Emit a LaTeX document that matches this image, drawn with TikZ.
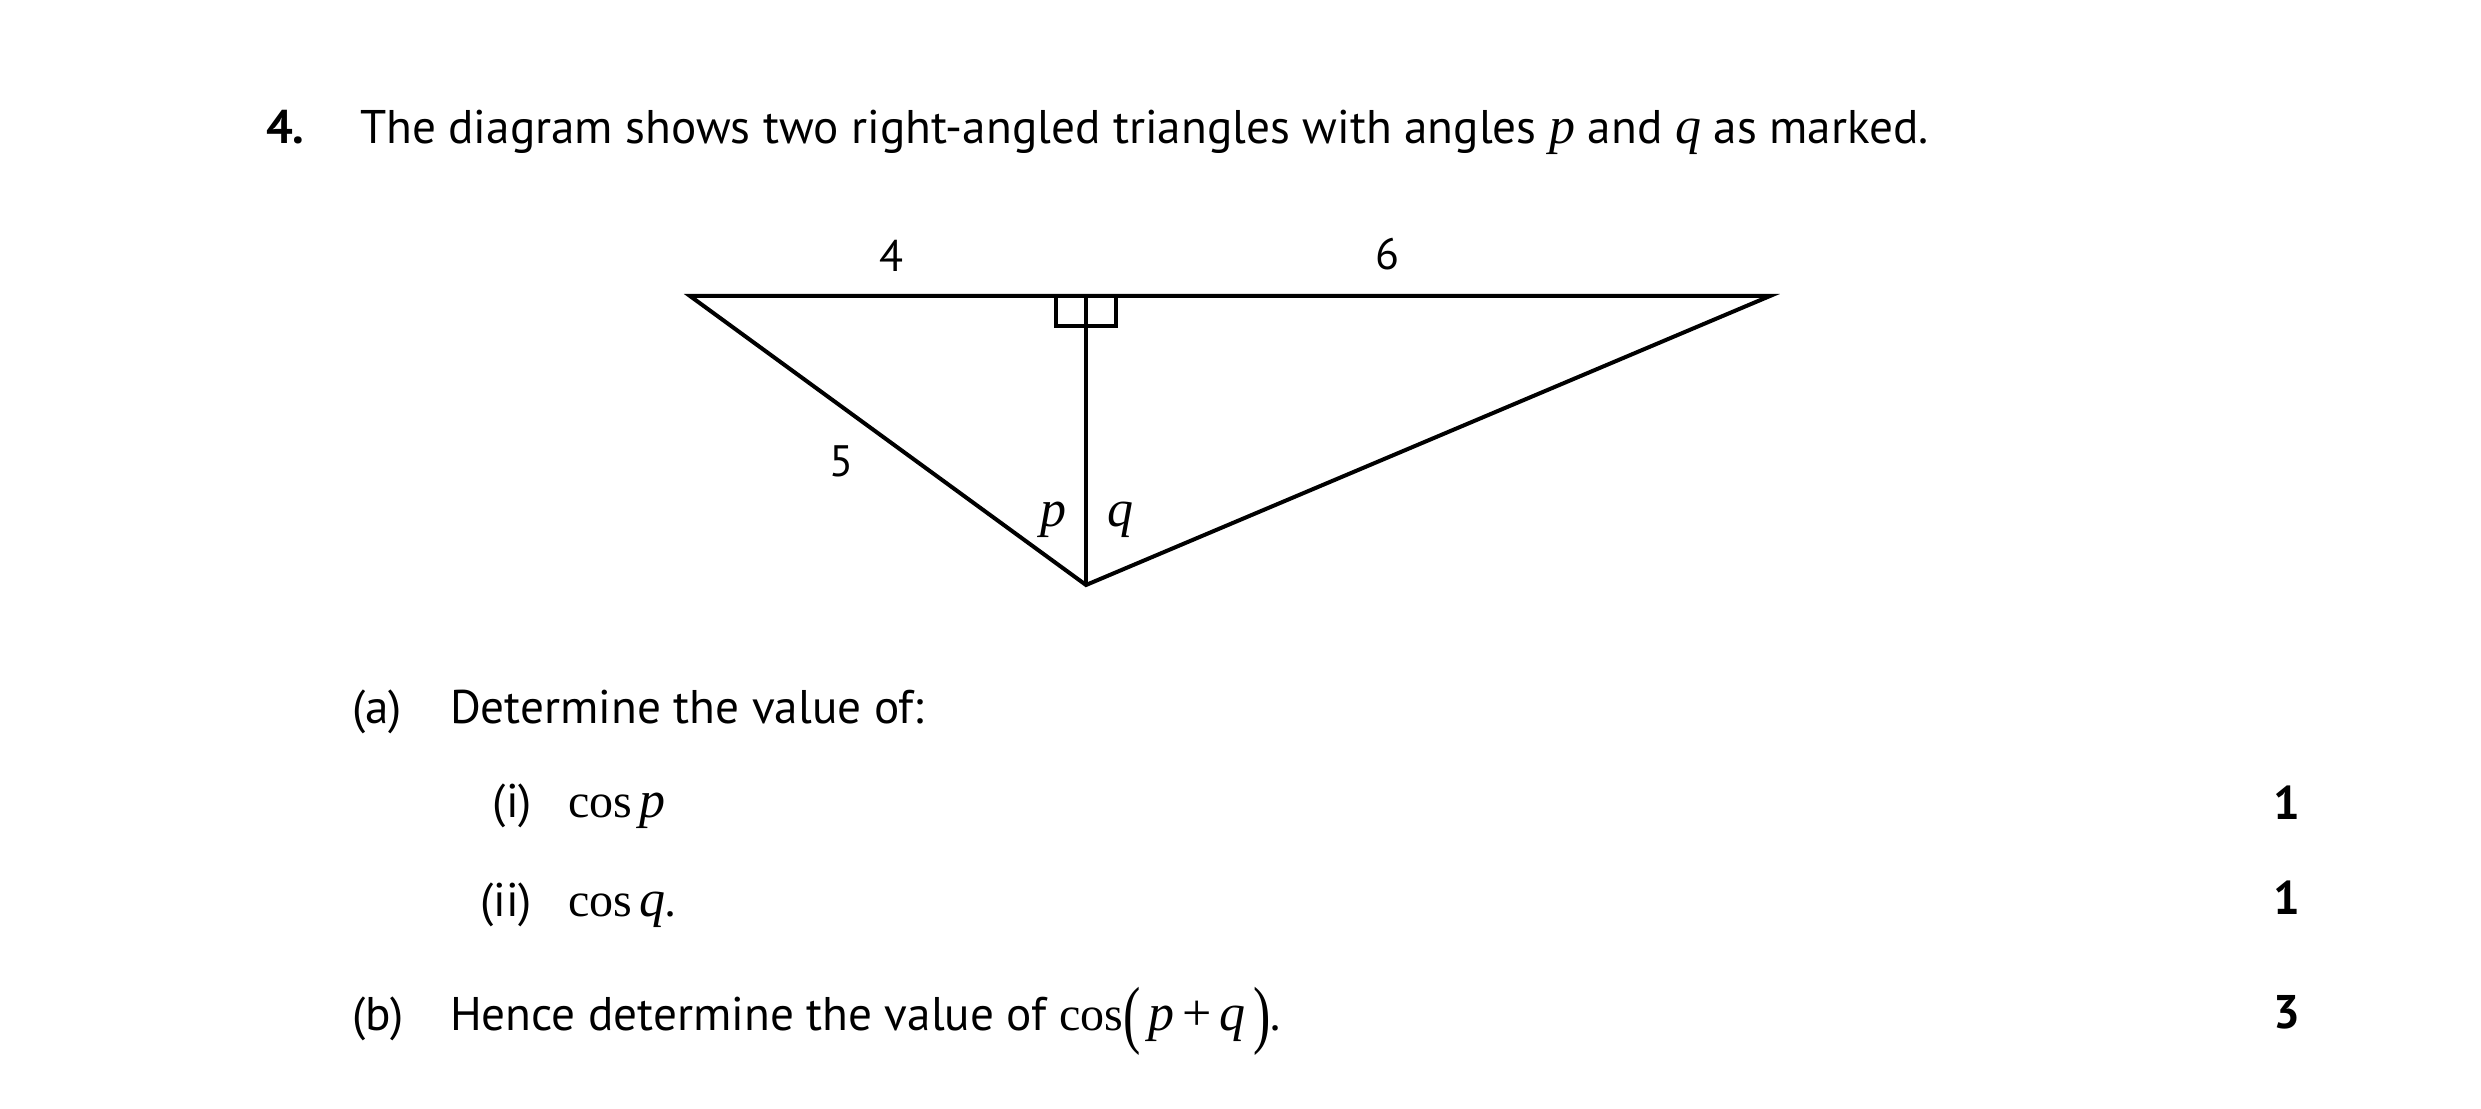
\documentclass[tikz,border=0pt]{standalone}
\usepackage{fontspec}
\usepackage{graphicx}
\setmainfont{PT Sans}
\newfontfamily\mserif{Liberation Serif}
\newcommand{\mv}[1]{{\fontsize{13pt}{14pt}\mserif\itshape #1}}
\newcommand{\mcos}{{\fontsize{12pt}{14pt}\mserif cos}}
\tikzset{
  txt/.style={inner sep=0pt, outer sep=0pt, font=\fontsize{11.8pt}{14pt}\selectfont},
  lbl/.style={inner sep=0pt, outer sep=0pt, font=\fontsize{11pt}{13pt}\selectfont},
  ang/.style={inner sep=0pt, outer sep=0pt, font=\fontsize{13pt}{14pt}\selectfont},
  edge/.style={line width=1pt, line join=miter},
  thin/.style={line width=0.8pt}
}
\begin{document}
\begin{tikzpicture}[x=0.25pt,y=-0.25pt]
\useasboundingbox (0,0) rectangle (2481,1109);
% heading
\node[txt, anchor=base west] (qn) at (266,144) {\bfseries 4.};
\node[txt, anchor=base west] (title) at (360,144) {The diagram shows two right-angled triangles with angles \mv{p} and \mv{q} as marked.};
% triangle
\coordinate (A) at (690,296);
\coordinate (F) at (1086,296);
\coordinate (B) at (1770,296);
\coordinate (C) at (1086,585);
\draw[thin] (1056,296) rectangle (1116,326);
\draw[thin] (F) -- (C);
\draw[edge] (A) -- (B) -- (C) -- cycle;
\node[lbl, anchor=base] (l4) at (891,272) {4};
\node[lbl, anchor=base] (l6) at (1387,270) {6};
\node[lbl, anchor=base] (l5) at (841,477) {5};
\node[ang, anchor=base west] (lp) at (1040,527) {\mv{p}};
\node[ang, anchor=base west] (lq) at (1107,527) {\mv{q}};
% parts
\node[txt, anchor=base west] (pa) at (352,724) {(a)};
\node[txt, anchor=base west] (ta) at (450,724) {Determine the value of:};
\node[txt, anchor=base east] (pi) at (532,818) {(i)};
\node[txt, anchor=base west] (ti) at (568,818) {\mcos\,\mv{p}};
\node[txt, anchor=base east] (pii) at (532,917) {(ii)};
\node[txt, anchor=base west] (tii) at (568,917) {\mcos\,\mv{q}.};
\node[txt, anchor=base west] (pb) at (352,1030) {(b)};
\node[txt, anchor=base west] (tb) at (450,1030) {Hence determine the value of \mcos\raisebox{-0.2em}{\scalebox{1}[1.45]{\fontsize{13pt}{14pt}\mserif(}}\,\mv{p}\,{\fontsize{13pt}{14pt}\mserif+}\,\mv{q}\,\raisebox{-0.2em}{\scalebox{1}[1.45]{\fontsize{13pt}{14pt}\mserif)}}.};
% marks
\node[txt, anchor=base east] (m1) at (2300,820) {\bfseries 1};
\node[txt, anchor=base east] (m2) at (2300,915) {\bfseries 1};
\node[txt, anchor=base east] (m3) at (2300,1028) {\bfseries 3};
\end{tikzpicture}
\end{document}
